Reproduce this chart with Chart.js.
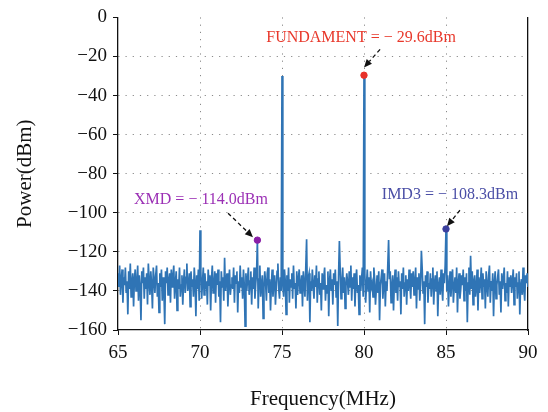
<!DOCTYPE html>
<html>
<head>
<meta charset="utf-8">
<script src="https://cdn.jsdelivr.net/npm/chart.js@4.4.0/dist/chart.umd.min.js"></script>
<style>
  body { margin: 0; background: #fff; }
  canvas { display: block; }
</style>
</head>
<body>
<canvas id="grafico" width="548" height="412"></canvas>
<script>
// spectrum sampled every 0.05 MHz from 65 MHz, one row per MHz
const freqStart = 65;
const freqStep = 0.05;
const noiseDbm = [
  -131,-138,-127,-142,-134,-129,-146,-133,-137,-128,-141,-135,-152,-130,-139,-126,-143,-136,-131,-148,
  -134,-129,-140,-137,-127,-145,-132,-138,-155,-130,-136,-128,-144,-133,-139,-131,-147,-126,-135,-142,
  -130,-137,-149,-128,-134,-141,-132,-127,-143,-136,-151,-131,-138,-129,-145,-133,-140,-157,-130,-136,
  -128,-142,-135,-131,-146,-129,-138,-133,-127,-144,-136,-130,-150,-134,-139,-128,-143,-137,-132,-147,
  -135,-129,-141,-133,-126,-140,-137,-131,-148,-130,-138,-134,-143,-128,-136,-153,-132,-139,-129,-145,
  -133,-130,-144,-136,-128,-142,-131,-139,-135,-147,-129,-137,-132,-150,-134,-127,-141,-138,-130,-146,
  -131,-137,-129,-143,-135,-156,-130,-138,-133,-145,-128,-140,-134,-131,-148,-136,-129,-142,-137,-133,
  -139,-128,-146,-132,-136,-130,-151,-135,-141,-127,-138,-133,-144,-129,-137,-158,-131,-140,-134,-128,
  -142,-135,-130,-147,-133,-139,-128,-144,-136,-131,-140,-149,-134,-127,-143,-137,-132,-154,-138,-130,
  -136,-145,-131,-128,-141,-134,-150,-137,-129,-143,-135,-132,-147,-138,-130,-126,-139,-144,-133,-140,
  -131,-137,-143,-129,-135,-152,-132,-140,-128,-146,-134,-138,-131,-144,-127,-139,-136,-149,-130,-142,
  -134,-129,-141,-137,-132,-148,-130,-136,-143,-128,-139,-145,-133,-131,-156,-135,-140,-129,-137,-144,
  -132,-138,-127,-146,-134,-130,-142,-136,-150,-131,-139,-133,-128,-145,-137,-141,-130,-153,-135,-129,
  -140,-134,-147,-131,-137,-129,-143,-135,-158,-132,-138,-130,-144,-136,-128,-141,-133,-149,-137,-131,
  -136,-142,-130,-138,-127,-145,-133,-139,-131,-148,-135,-129,-141,-137,-152,-132,-140,-134,-128,-143,
  -135,-131,-146,-137,-129,-140,-133,-151,-130,-138,-136,-143,-128,-134,-147,-139,-132,-141,-130,-155,
  -137,-133,-129,-144,-136,-131,-148,-135,-140,-127,-142,-134,-130,-146,-138,-132,-150,-136,-129,-141,
  -133,-145,-130,-138,-135,-152,-131,-139,-128,-143,-136,-132,-147,-134,-140,-129,-137,-144,-131,-138,
  -130,-142,-136,-128,-149,-133,-139,-131,-145,-137,-134,-129,-141,-135,-157,-132,-138,-130,-146,-136,
  -139,-131,-143,-134,-128,-147,-136,-132,-140,-130,-153,-137,-133,-142,-129,-138,-145,-131,-136,-127,
  -134,-140,-132,-148,-137,-130,-143,-135,-129,-146,-138,-133,-141,-128,-151,-136,-131,-144,-139,-132,
  -137,-129,-145,-133,-140,-131,-156,-136,-128,-142,-134,-139,-130,-147,-135,-132,-143,-138,-129,-150,
  -133,-141,-136,-128,-144,-131,-138,-134,-149,-130,-137,-143,-132,-127,-146,-135,-140,-131,-153,-136,
  -130,-144,-137,-133,-129,-142,-135,-151,-131,-139,-134,-128,-145,-136,-141,-130,-148,-133,-138,-132,
  -141,-135,-129,-147,-133,-138,-131,-144,-136,-130,-152,-137,-134,-142,-128,-139,-145,-132,-136,-131,
  -138
];
const spikeFreq = [70, 71.5, 73.5, 75, 76.5, 78.5, 80, 81.5, 83.5, 85, 86.5];
const spikeDbm = [-109, -123, -114.0, -30, -113.5, -114.5, -29.6, -114, -119.5, -108.3, -122];

const markerFreq = [73.5, 80, 85];
const markerDbm = [-114.0, -29.6, -108.3];
const markerText = ['XMD = \u2212 114.0dBm', 'FUNDAMENT = \u2212 29.6dBm', 'IMD3 = \u2212 108.3dBm'];

const xMin = 65, xMax = 90, xStep = 5;
const yMin = -160, yMax = 0, yStep = 20;

const serif = '"Liberation Serif", "DejaVu Serif", serif';

// build the trace
const spectrum = noiseDbm.map((v, i) => ({ x: +(freqStart + i * freqStep).toFixed(2), y: v }));
spikeFreq.forEach((f, k) => {
  const i = Math.round((f - freqStart) / freqStep);
  spectrum[i].y = spikeDbm[k];
});

const markers = markerFreq.map((f, i) => ({ x: f, y: markerDbm[i] }));

// callout look: colours, where the text sits and where the arrows go (data units)
const calloutStyle = {
  colors: ['#9b30b5', '#e8382b', '#4a4ea6'],
  dotColors: ['#8a1fa8', '#e8322a', '#3b3f9e'],
  textAt: [[70.06, -93.6], [79.82, -10.2], [85.24, -91.0]],
  arrowFrom: [[71.71, -100.2], [80.98, -16.4], [85.85, -98.7]],
  arrowTo: [[73.23, -112.5], [80.0, -25.6], [85.06, -106.9]]
};

const callouts = {
  id: 'callouts',
  afterDatasetsDraw(chart) {
    const { ctx, scales: { x, y } } = chart;
    ctx.save();
    ctx.font = '16px ' + serif;
    ctx.textAlign = 'center';
    ctx.textBaseline = 'middle';
    markerText.forEach((t, i) => {
      const p = calloutStyle.textAt[i];
      ctx.fillStyle = calloutStyle.colors[i];
      ctx.fillText(t, x.getPixelForValue(p[0]), y.getPixelForValue(p[1]));

      const a = calloutStyle.arrowFrom[i], b = calloutStyle.arrowTo[i];
      const x1 = x.getPixelForValue(a[0]), y1 = y.getPixelForValue(a[1]);
      const x2 = x.getPixelForValue(b[0]), y2 = y.getPixelForValue(b[1]);
      const ang = Math.atan2(y2 - y1, x2 - x1);
      const len = 8;
      ctx.strokeStyle = '#111';
      ctx.lineWidth = 1.3;
      ctx.setLineDash([4, 3]);
      ctx.beginPath();
      ctx.moveTo(x1, y1);
      ctx.lineTo(x2 - len * Math.cos(ang), y2 - len * Math.sin(ang));
      ctx.stroke();
      ctx.setLineDash([]);
      ctx.fillStyle = '#111';
      ctx.beginPath();
      ctx.moveTo(x2, y2);
      ctx.lineTo(x2 - len * Math.cos(ang) + 3.5 * Math.sin(ang), y2 - len * Math.sin(ang) - 3.5 * Math.cos(ang));
      ctx.lineTo(x2 - len * Math.cos(ang) - 3.5 * Math.sin(ang), y2 - len * Math.sin(ang) + 3.5 * Math.cos(ang));
      ctx.closePath();
      ctx.fill();
    });
    ctx.restore();
  }
};

const whiteBg = {
  id: 'whiteBg',
  beforeDraw(chart) {
    const c = chart.ctx;
    c.save();
    c.fillStyle = '#fff';
    c.fillRect(0, 0, chart.width, chart.height);
    c.restore();
  }
};

const gridColor = (min, max) => ctx => {
  const v = ctx.tick ? ctx.tick.value : null;
  return (v === min || v === max) ? 'rgba(0,0,0,0)' : '#8a8a8a';
};

const minus = v => String(v).replace('-', '\u2212');

new Chart(document.getElementById('grafico'), {
  type: 'line',
  data: {
    datasets: [
      {
        label: 'spectrum',
        data: spectrum,
        borderColor: '#2f74b5',
        borderWidth: 1.7,
        pointRadius: 0,
        tension: 0,
        order: 2
      },
      {
        label: 'markers',
        data: markers,
        showLine: false,
        pointRadius: 3.2,
        pointBackgroundColor: calloutStyle.dotColors,
        pointBorderColor: calloutStyle.dotColors,
        order: 1
      }
    ]
  },
  options: {
    responsive: false,
    devicePixelRatio: 1,
    animation: false,
    layout: { padding: { top: 17, right: 0, bottom: 0, left: 0 } },
    plugins: { legend: { display: false }, tooltip: { enabled: false } },
    scales: {
      x: {
        type: 'linear',
        min: xMin, max: xMax,
        afterFit(s) { s.height = 82; },
        ticks: { stepSize: xStep, color: '#111', font: { family: serif, size: 19 }, padding: 7, maxRotation: 0 },
        grid: { color: gridColor(xMin, xMax), tickColor: '#111', tickLength: 5, lineWidth: 1 },
        border: { color: '#111', width: 1.3, dash: [1.2, 6] },
        title: { display: true, text: 'Frequency(MHz)', color: '#111', font: { family: serif, size: 21 }, padding: { top: 0, bottom: 0 } }
      },
      y: {
        min: yMin, max: yMax,
        afterFit(s) { s.width = 118; },
        ticks: { stepSize: yStep, color: '#111', font: { family: serif, size: 19 }, padding: 6, callback: minus },
        grid: { color: gridColor(yMin, yMax), tickColor: '#111', tickLength: 5, lineWidth: 1 },
        border: { color: '#111', width: 1.3, dash: [1.2, 6] },
        title: { display: true, text: 'Power(dBm)', color: '#111', font: { family: serif, size: 21 }, padding: { top: 13, bottom: 0 } }
      },
      yRight: {
        position: 'right',
        min: yMin, max: yMax,
        afterFit(s) { s.width = 20; },
        ticks: { display: false },
        grid: { drawOnChartArea: false, drawTicks: false },
        border: { color: '#111', width: 1.3 }
      }
    }
  },
  plugins: [whiteBg, callouts]
});
</script>
</body>
</html>
